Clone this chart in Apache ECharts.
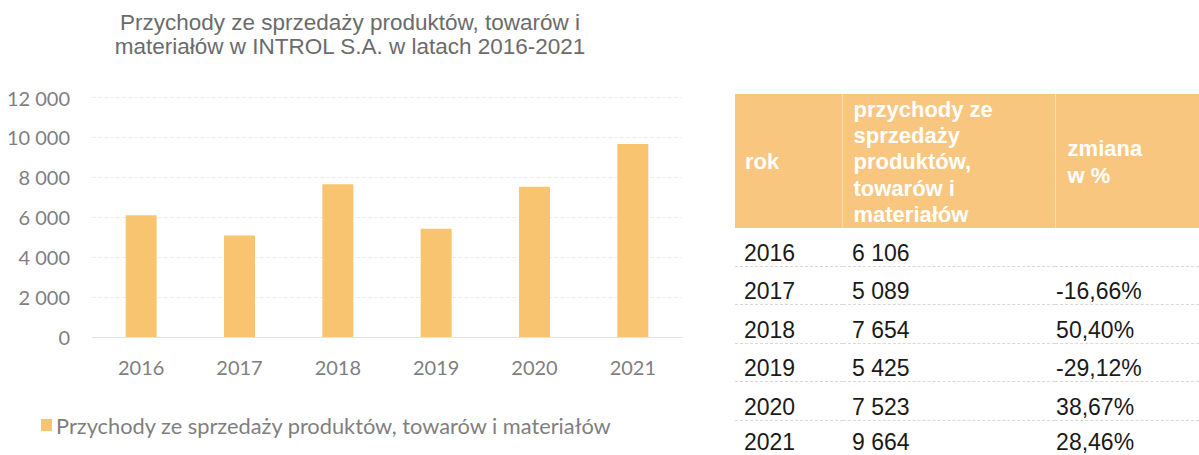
<!DOCTYPE html>
<html>
<head>
    <meta charset="utf-8">
    <title>INTROL S.A. przychody</title>
    <script type="text/javascript" src="https://cdn.jsdelivr.net/npm/echarts@6/dist/echarts.min.js"></script>
    <style>
        body { margin: 0; background: #fff; width: 1199px; height: 455px; overflow: hidden; position: relative; }
        #main { position: absolute; left: 0; top: 0; width: 700px; height: 455px; }
        #tab { position: absolute; left: 735px; top: 94px; border-collapse: collapse; font-family: "Liberation Sans", Arial, sans-serif; }
        #tab th { background: #f8c67e; color: #fff; font-size: 22px; font-weight: bold; text-align: left; vertical-align: middle;
                  line-height: 26.2px; height: 131px; padding: 3px 0 0 0; border-left: 1px solid #fbdcae; }
        #tab th:first-child { border-left: none; }
        #tab td { font-size: 23px; color: #1a1a1a; height: 37.5px; line-height: 26px; vertical-align: bottom; padding: 0;
                  border-bottom: 1px dashed #d9d9d9; }
        #tab tr.last td { border-bottom: none; height: 20px; line-height: 20px; padding-top: 11px; }
    </style>
</head>
<body>
    <div id="main"></div>
    <table id="tab"></table>

    <script type="text/javascript">
        // dane
        var years = ['2016', '2017', '2018', '2019', '2020', '2021'];
        var revenue = [6106, 5089, 7654, 5425, 7523, 9664];
        var change = ['', '-16,66%', '50,40%', '-29,12%', '38,67%', '28,46%'];
        var headers = ['rok', 'przychody ze<br>sprzedaży<br>produktów,<br>towarów i<br>materiałów', 'zmiana<br>w %'];
        var seriesName = 'Przychody ze sprzedaży produktów, towarów i materiałów';
        var titleText = 'Przychody ze sprzedaży produktów, towarów i\nmateriałów w INTROL S.A. w latach 2016-2021';

        function fmt(v) {
            return String(v).replace(/\B(?=(\d{3})+(?!\d))/g, ' ');
        }

        // tabela
        var colW = [108, 212, 144];
        var headPad = [10, 10, 12];
        var cellPad = [9, 9, 1];
        var html = '<tr>';
        for (var i = 0; i < headers.length; i++) {
            html += '<th style="width:' + (colW[i] - headPad[i]) + 'px;padding-left:' + headPad[i] + 'px">' + headers[i] + '</th>';
        }
        html += '</tr>';
        for (var i = 0; i < years.length; i++) {
            var cells = [years[i], fmt(revenue[i]), change[i]];
            html += '<tr' + (i == years.length - 1 ? ' class="last"' : '') + '>';
            for (var j = 0; j < cells.length; j++) {
                html += '<td style="padding-left:' + cellPad[j] + 'px">' + cells[j] + '</td>';
            }
            html += '</tr>';
        }
        document.getElementById('tab').innerHTML = html;

        // wykres
        var myChart = echarts.init(document.getElementById('main'), null, { renderer: 'svg' });
        var axisFont = 'Lato, "Open Sans", sans-serif';

        var option = {
            animation: false,
            title: {
                text: titleText,
                left: 'center',
                top: 10,
                padding: 0,
                textStyle: {
                    fontFamily: '"Liberation Sans", Arial, sans-serif',
                    fontSize: 22.5,
                    fontWeight: 'normal',
                    color: '#6b6b6b',
                    lineHeight: 24
                }
            },
            legend: {
                data: [seriesName],
                left: 36,
                top: 409,
                icon: 'rect',
                itemWidth: 11,
                itemHeight: 12,
                itemGap: 5,
                textStyle: { fontFamily: axisFont, fontSize: 21.8, color: '#7f7f7f', padding: [0, 0, 0, -1] }
            },
            grid: {
                left: 92,
                right: 18,
                top: 97.5,
                bottom: 118,
                containLabel: false
            },
            xAxis: {
                type: 'category',
                data: years,
                axisTick: { show: false },
                axisLine: { lineStyle: { color: '#e3e3e3' } },
                axisLabel: { fontFamily: axisFont, fontSize: 20, color: '#7f7f7f', margin: 20 }
            },
            yAxis: {
                type: 'value',
                min: 0,
                max: 12000,
                interval: 2000,
                axisLine: { show: false },
                axisTick: { show: false },
                splitLine: { lineStyle: { color: '#efefef', type: 'dashed' } },
                axisLabel: {
                    fontFamily: axisFont, fontSize: 20, color: '#7f7f7f', margin: 22,
                    formatter: function (v) { return fmt(v); }
                }
            },
            series: [
                {
                    name: seriesName,
                    type: 'bar',
                    data: revenue,
                    barWidth: 31,
                    itemStyle: { color: '#f9c46f' }
                }
            ]
        };

        myChart.setOption(option);
    </script>
</body>
</html>
